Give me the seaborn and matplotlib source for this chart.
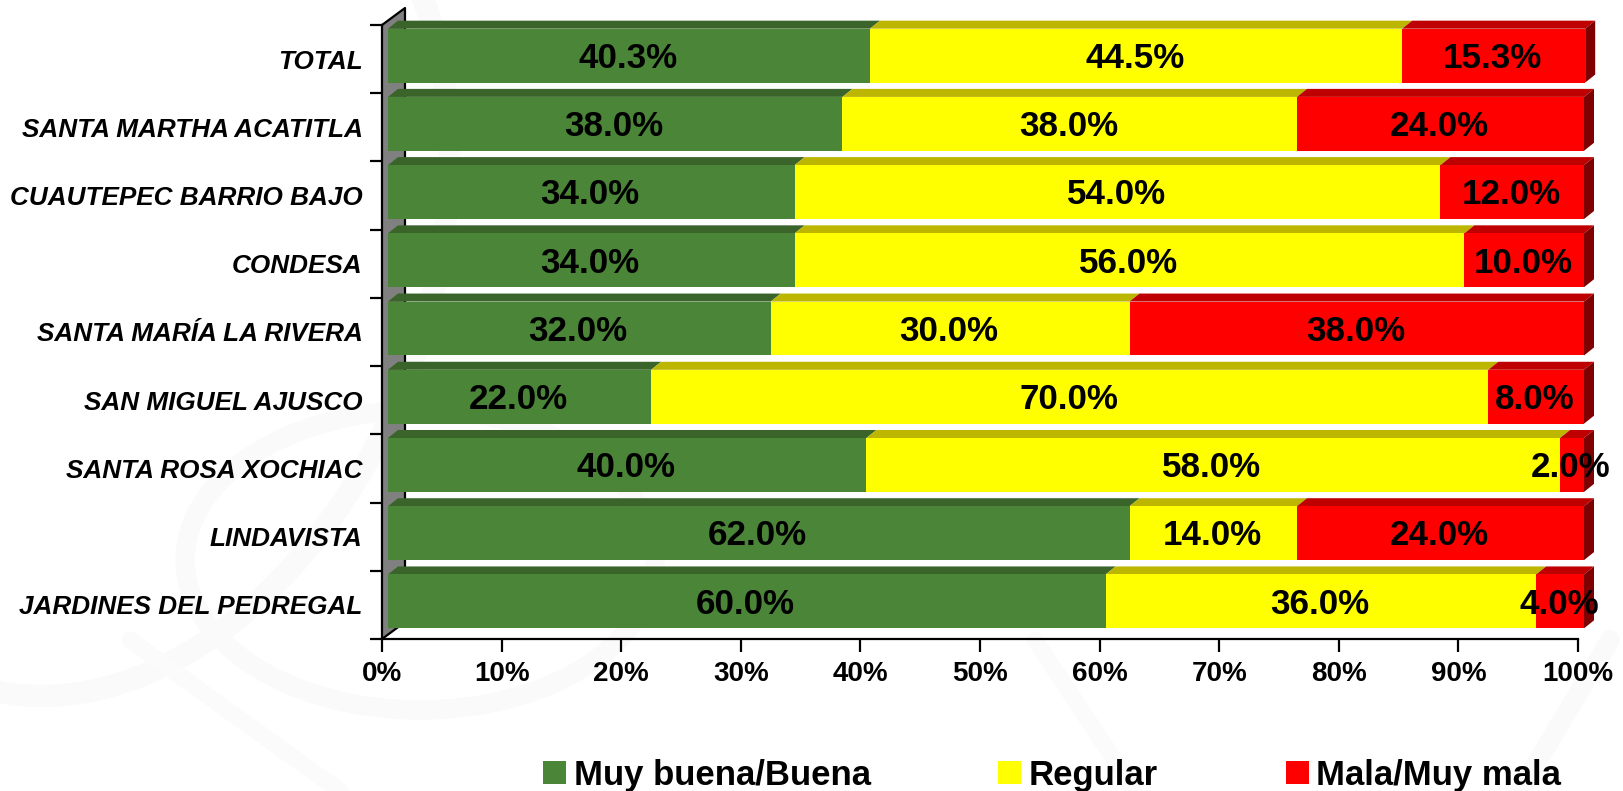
import numpy as np
import pandas as pd
import seaborn as sns
import matplotlib.pyplot as plt
from matplotlib.patches import Polygon, Ellipse
from matplotlib.transforms import Affine2D

categories = ["TOTAL", "SANTA MARTHA ACATITLA", "CUAUTEPEC BARRIO BAJO", "CONDESA",
              "SANTA MARÍA LA RIVERA", "SAN MIGUEL AJUSCO", "SANTA ROSA XOCHIAC",
              "LINDAVISTA", "JARDINES DEL PEDREGAL"]
buena = [40.3, 38.0, 34.0, 34.0, 32.0, 22.0, 40.0, 62.0, 60.0]
regular = [44.5, 38.0, 54.0, 56.0, 30.0, 70.0, 58.0, 14.0, 36.0]
mala = [15.3, 24.0, 12.0, 10.0, 38.0, 8.0, 2.0, 24.0, 4.0]
series_names = ["Muy buena/Buena", "Regular", "Mala/Muy mala"]
xticks = [0, 10, 20, 30, 40, 50, 60, 70, 80, 90, 100]

front = ["#4a8538", "#ffff00", "#ff0000"]
top = ["#3a6429", "#bdb600", "#bf0000"]
W, H = 1623, 791

sns.set_theme(style="white")
plt.rcParams["font.family"] = ["Liberation Sans", "DejaVu Sans"]
plt.rcParams["font.weight"] = "bold"

df = pd.DataFrame({"zona": categories, "a": buena, "b": regular, "c": mala})
df["end_a"] = df["a"]
df["end_b"] = df["a"] + df["b"]
df["end_c"] = df["end_b"] + df["c"]

fig = plt.figure(figsize=(W / 100, H / 100), dpi=100, facecolor="white")

# faint watermark behind the chart
bg = fig.add_axes([0, 0, 1, 1], zorder=0)
bg.set_xlim(0, W)
bg.set_ylim(H, 0)
bg.axis("off")
bg.add_patch(Ellipse((420, 560), 470, 300, fill=False, ec="#f9faf9", lw=14))
bg.add_patch(Ellipse((120, 260), 620, 900, angle=20, fill=False, ec="#f9faf9", lw=16))
bg.plot([130, 340], [640, 791], color="#fafbfa", lw=12)
bg.plot([1035, 1135], [640, 791], color="#fafbfa", lw=12)
bg.plot([1610, 1520], [640, 791], color="#f9faf9", lw=14)

ax = fig.add_axes([382 / W, 1 - 639 / H, 1196 / W, 614 / H], zorder=1)
ax.patch.set_alpha(0)

# cumulative bars, biggest first so each one covers the next
bar_h = 0.79
layers = [("end_c", 2), ("end_b", 1), ("end_a", 0)]
for col, i in layers:
    sns.barplot(data=df, x=col, y="zona", color=front[i], saturation=1, width=bar_h,
                orient="h", ax=ax, label=series_names[i], zorder=3)

ax.set_xlim(0, 100)
ax.set_ylim(len(categories) - 0.5, -0.5)
ax.set_xlabel("")
ax.set_ylabel("")

# bars sit slightly off the front plane of the axes
bar_tf = Affine2D().translate(6, 3.5)
shifted = ax.transData + bar_tf
for p in ax.patches:
    p.set_transform(shifted)
    p.set_clip_on(False)
    p.set_linewidth(0)

px_x = 100 / 1196
px_y = len(categories) / 614
dx, dy = 10 * px_x, 8 * px_y
wall_x, wall_y = 23 * px_x, 17 * px_y

# back wall
y0, y1 = len(categories) - 0.5, -0.5
ax.add_patch(Polygon([(0, y1), (wall_x, y1 - wall_y), (wall_x, y0 - wall_y), (0, y0)],
                     fc="#808080", ec="none", clip_on=False, zorder=1))
ax.plot([0, wall_x, wall_x], [y1, y1 - wall_y, y0 - wall_y], color="black", lw=1.6, clip_on=False, zorder=1.5)
ax.plot([0, wall_x], [y0, y0 - wall_y], color="black", lw=1.6, clip_on=False, zorder=1.5)

# depth faces and value labels
for r in range(len(categories)):
    t = r - bar_h / 2
    b = r + bar_h / 2
    starts = [0, df["end_a"][r], df["end_b"][r]]
    ends = [df["end_a"][r], df["end_b"][r], df["end_c"][r]]
    vals = [buena[r], regular[r], mala[r]]
    for i in range(3):
        ax.add_patch(Polygon([(starts[i], t), (starts[i] + dx, t - dy), (ends[i] + dx, t - dy), (ends[i], t)],
                             fc=top[i], ec="none", transform=shifted, clip_on=False, zorder=2))
        ax.text((starts[i] + ends[i]) / 2 - 0.1, r - 0.01, f"{vals[i]:.1f}%", transform=shifted, ha="center",
                va="center_baseline", fontsize=25.2, fontweight="bold", color="black", clip_on=False, zorder=5)
    ax.add_patch(Polygon([(ends[2], t), (ends[2] + dx, t - dy), (ends[2] + dx, b - dy), (ends[2], b)],
                         fc="#7f0000", ec="none", transform=shifted, clip_on=False, zorder=2))

sns.despine(ax=ax)
for s in ["left", "bottom"]:
    ax.spines[s].set_linewidth(1.6)
    ax.spines[s].set_color("black")
    ax.spines[s].set_zorder(6)

ax.set_xticks(xticks)
ax.set_xticklabels([f"{v}%" for v in xticks], fontsize=20, fontweight="bold", color="black")
ax.tick_params(axis="x", bottom=True, length=9, width=1.6, color="black", pad=7)
ax.set_yticks(range(len(categories)))
ax.set_yticklabels(categories, fontsize=18.8, fontweight="bold", fontstyle="italic", color="black",
                   va="center_baseline")
ax.set_yticks(np.arange(len(categories) + 1) - 0.5, minor=True)
ax.tick_params(axis="y", which="major", left=False, length=0, pad=14)
ax.tick_params(axis="y", which="minor", left=True, length=9, width=1.6, color="black")

handles, labels = ax.get_legend_handles_labels()
order = [labels.index(n) for n in series_names]
ax.get_legend().remove()
fig.legend([handles[k] for k in order], [labels[k] for k in order], ncol=3, loc="lower left",
           bbox_to_anchor=(543 / W, 1 - 791.5 / H), frameon=False, prop={"size": 25, "weight": "bold"},
           handlelength=0.66, handleheight=0.66, handletextpad=0.22, columnspacing=3.68,
           borderpad=0, borderaxespad=0, labelcolor="black")

fig.savefig("out.png", dpi=100, facecolor="white")
